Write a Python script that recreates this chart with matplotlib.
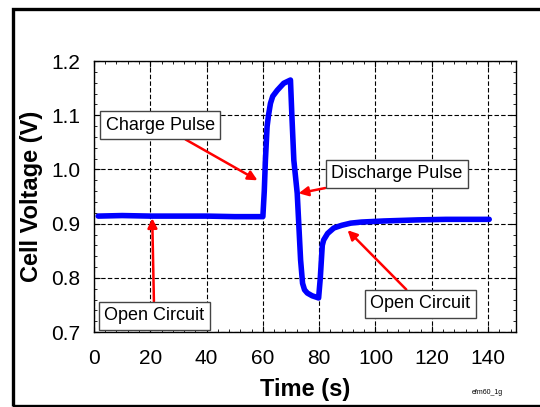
import matplotlib
matplotlib.use("Agg")
import matplotlib.pyplot as plt
from matplotlib.patches import Rectangle
from matplotlib.ticker import MultipleLocator

plt.rcParams['font.family'] = ['Liberation Sans', 'DejaVu Sans']

# tension de la celda
tiempo = [1.5, 10, 20, 30, 40, 50, 60.0, 60.5, 60.9, 61.5, 62.0, 62.7, 63.5, 65.1, 67.4, 69.8,
          70.3, 71.0, 72.2, 73.4, 74.1, 74.8, 75.8, 77.5, 79.8, 80.4, 81.1, 81.6, 83.0,
          85.2, 88.0, 91.2, 95.0, 103, 115, 125, 140.4]
voltaje = [0.914, 0.915, 0.914, 0.914, 0.914, 0.913, 0.913, 0.960, 1.017, 1.079, 1.100, 1.122,
           1.135, 1.146, 1.159, 1.165, 1.100, 1.017, 0.956, 0.833, 0.790, 0.778, 0.772, 0.767,
           0.763, 0.800, 0.860, 0.870, 0.882, 0.892, 0.897, 0.901, 0.903, 0.905, 0.907,
           0.908, 0.908]

etiquetas = ["Charge Pulse", "Discharge Pulse", "Open Circuit", "Open Circuit"]
pos_texto = [(23.5, 1.082), (107.6, 0.992), (21.4, 0.730), (116.0, 0.752)]
pos_flecha = [(58.1, 0.980), (72.7, 0.956), (20.7, 0.910), (90.1, 0.888)]

fig = plt.figure(figsize=(5.4, 4.07), dpi=100)
fig.patches.append(Rectangle((0.024, 0.003), 1.2, 0.975, transform=fig.transFigure,
                             fill=False, edgecolor='black', linewidth=2.4))
ax = fig.add_axes([0.174, 0.184, 0.782, 0.666])

ax.plot(tiempo, voltaje, color='#0000ff', linewidth=4, solid_capstyle='round',
        solid_joinstyle='round', zorder=3)

ax.set_xlim(0, 150)
ax.set_ylim(0.7, 1.2)
ax.xaxis.set_major_locator(MultipleLocator(20))
ax.xaxis.set_minor_locator(MultipleLocator(4))
ax.yaxis.set_major_locator(MultipleLocator(0.1))
ax.yaxis.set_minor_locator(MultipleLocator(0.02))
ax.tick_params(which='both', direction='in', top=True, right=True, labelsize=15)
ax.tick_params(axis='x', which='major', length=4, pad=12)
ax.tick_params(axis='y', which='major', length=4, pad=10)
ax.tick_params(which='minor', length=2.5)
ax.grid(True, which='major', color='black', linestyle=(0, (4, 2)), linewidth=0.8)
for s in ax.spines.values():
    s.set_linewidth(1.0)

ax.set_xlabel("Time (s)", fontsize=17, fontweight='bold', labelpad=7)
ax.set_ylabel("Cell Voltage (V)", fontsize=17, fontweight='bold', labelpad=6)

for txt, xyt, xy in zip(etiquetas, pos_texto, pos_flecha):
    ax.annotate(txt, xy=xy, xytext=xyt, fontsize=13, ha='center', va='center', zorder=5,
                bbox=dict(boxstyle='square,pad=0.3', facecolor='white', edgecolor='#444444',
                          linewidth=1.0),
                arrowprops=dict(arrowstyle='-|>', color='red', lw=1.8, mutation_scale=14,
                                shrinkA=0, shrinkB=0))

fig.text(0.903, 0.035, "efm60_1g", fontsize=5, ha='center', va='center')

fig.savefig("out.png", dpi=100)
